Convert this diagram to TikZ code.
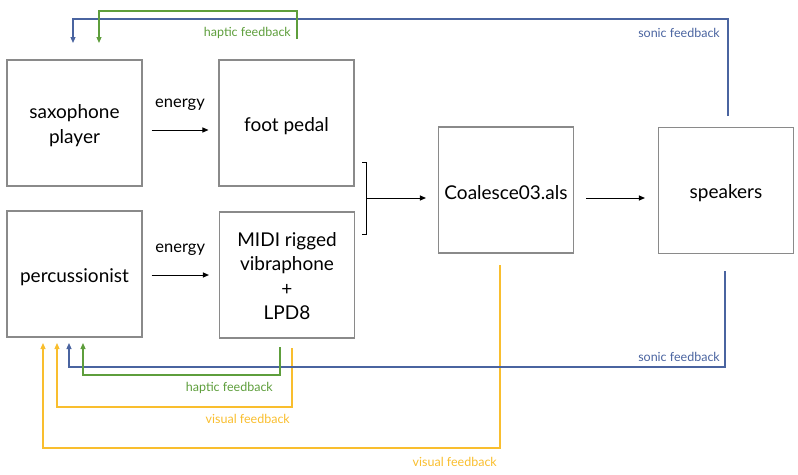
\documentclass[tikz,border=0pt]{standalone}
\usepackage{fontspec}
\setmainfont{Lato}
\usetikzlibrary{arrows.meta}
\definecolor{fbblue}{HTML}{4A64A0}
\definecolor{fbgreen}{HTML}{5E9E3C}
\definecolor{fbyellow}{HTML}{F9BE2E}
\definecolor{boxgray}{HTML}{8A8A8A}
\begin{document}
\begin{tikzpicture}[x=1pt,y=-1pt,
  blk/.style={draw=boxgray,line width=1.1pt,minimum width=135pt,minimum height=126pt,inner sep=0pt},
  btxt/.style={align=center,font=\fontsize{19}{25}\selectfont,inner sep=0pt,yshift=-3pt},
  flow/.style={-{Triangle[length=6pt,width=5pt]},line width=1pt,black},
  fb/.style={-{Triangle[length=6pt,width=5pt]},line width=1.1pt},
  lbl/.style={font=\fontsize{12.5}{14}\selectfont,inner sep=0pt},
  elbl/.style={font=\fontsize{16.5}{18}\selectfont,inner sep=0pt}]
\useasboundingbox (0,0) rectangle (798,474);
\node[blk,label={[btxt]center:{saxophone\\player}}] (sax) at (74.5,123) {};
\node[blk,label={[btxt]center:{foot pedal}}] (pedal) at (286.5,123) {};
\node[blk,label={[btxt]center:{percussionist}}] (perc) at (74.5,274) {};
\node[blk,label={[btxt,yshift=2pt,font=\fontsize{19}{24.5}\selectfont]center:{MIDI rigged\\vibraphone\\+\\LPD8}}] (midi) at (287,275) {};
\node[blk,label={[btxt]center:{Coalesce03.als}}] (coal) at (506,190) {};
\node[blk,label={[btxt]center:{speakers}}] (spk) at (726,190.5) {};
% energy arrows
\draw[flow] ([yshift=-7pt,xshift=9pt]sax.east) -- ([yshift=-7pt,xshift=-10pt]pedal.west) node[elbl,midway,above=19pt] {energy};
\draw[flow] ([yshift=-1pt,xshift=9pt]perc.east) -- ([xshift=-10pt]midi.west) node[elbl,midway,above=19pt] {energy};
% bracket
\coordinate (bt) at (366,162);
\coordinate (bb) at (366,234);
\coordinate (bm) at (366,198);
\draw[line width=1pt] ([xshift=-4pt]bt) -- (bt) -- (bb) -- ([xshift=-4pt]bb);
\draw[flow] (bm) -- ([xshift=-12pt]coal.west |- bm);
\draw[flow] ([xshift=12pt,yshift=-8pt]coal.east) -- ([xshift=-13pt,yshift=-7.5pt]spk.west);
% top feedback
\coordinate (s1) at (728,116);
\coordinate (s1e) at (73,43);
\draw[fb,fbblue] (s1) |- (73,19) -- (s1e);
\node[lbl,fbblue,anchor=east] (s1l) at (720,33) {sonic feedback};
\coordinate (h1) at (297,39);
\coordinate (h1e) at (99,43);
\draw[fb,fbgreen] (h1) |- (99,11) -- (h1e);
\node[lbl,fbgreen,anchor=east] (h1l) at (291,33) {haptic feedback};
% bottom feedback
\coordinate (v2) at (500,265);
\coordinate (v2e) at (43,343);
\draw[fb,fbyellow] (v2) |- (43,448) -- (v2e);
\node[lbl,fbyellow,anchor=east] (v2l) at (497,462) {visual feedback};
\coordinate (v1) at (292,348);
\coordinate (v1e) at (57,343);
\draw[fb,fbyellow] (v1) |- (57,407) -- (v1e);
\node[lbl,fbyellow,anchor=east] (v1l) at (290,419) {visual feedback};
\coordinate (s2) at (725,271);
\coordinate (s2e) at (69,343);
\draw[fb,fbblue] (s2) |- (69,367) -- (s2e);
\node[lbl,fbblue,anchor=east] (s2l) at (720,357) {sonic feedback};
\coordinate (h2) at (280,347);
\coordinate (h2e) at (83,343);
\draw[fb,fbgreen] (h2) |- (83,375) -- (h2e);
\node[lbl,fbgreen,anchor=east] (h2l) at (273,388) {haptic feedback};
\end{tikzpicture}
\end{document}
